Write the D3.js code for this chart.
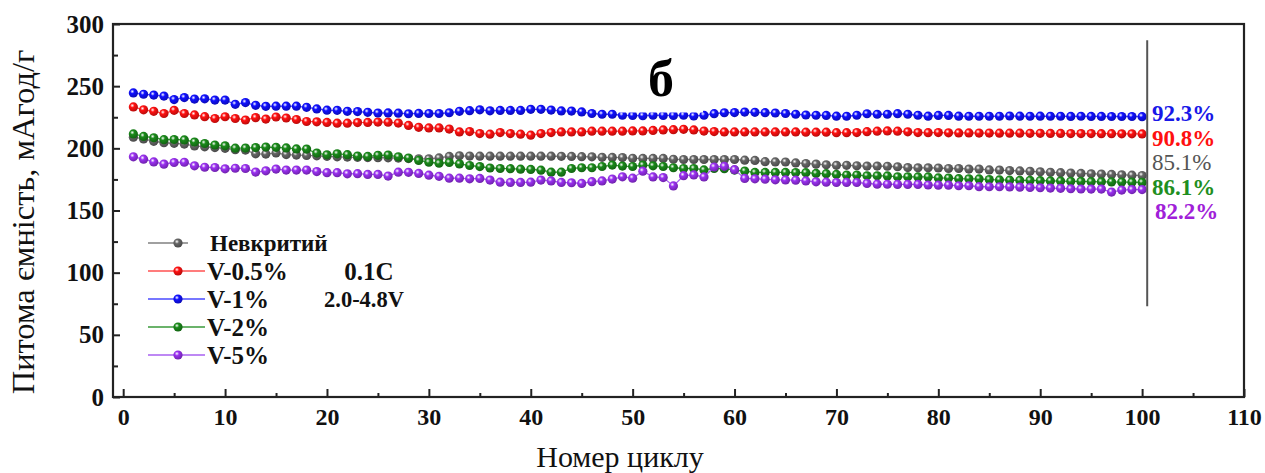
<!DOCTYPE html>
<html><head><meta charset="utf-8">
<script src="https://cdn.jsdelivr.net/npm/d3@7"></script>
<style>
html,body{margin:0;padding:0;background:#fff;}
text{font-family:"Liberation Serif","Times New Roman",serif;}
</style></head>
<body>
<svg id="chart" width="1265" height="473"></svg>
<script>
const cycles = d3.range(1, 101);
const seriesNames = ["Невкритий", "V-0.5%", "V-1%", "V-2%", "V-5%"];
const uncoated = [209,207.6,205.6,204.5,204,203.4,201.9,201.2,200.6,200,198.9,198.6,195.6,195.4,196.3,195,194.6,194.3,194,193.6,193.2,193,192.8,192.6,192.5,192.4,192.2,191.8,191.6,191.6,192.3,193.5,194,193.8,193.7,193.7,193.7,193.7,193.7,193.7,193.7,193.7,193.6,193.5,193.3,193.2,192.8,192.7,192.6,192,191.9,191.9,191.9,191.2,191,191,191,191,191,191,190.5,190.3,189.3,189.1,189,188.3,187.8,187.3,186.7,186.3,186.3,186,185.7,185.7,185.6,185.2,184.5,184.3,184.3,184.2,183.8,183.8,183.3,183.3,182.6,182.5,182.1,181.8,181.5,181.1,180.7,180.4,180.1,179.8,179.5,179.3,179,178.7,178.4,178.1];
const v05 = [233.3,231,229.8,228,230.6,228,226.9,225.5,224,225.4,224,222.8,224.7,223.5,225.2,224.4,223.2,221.6,221.3,220.8,220.2,220.2,220.7,220.8,221.1,221,220.3,218.4,216.9,216.4,216.4,215.5,213.2,213.5,211.9,211.4,212.7,211.9,211.4,210.6,211.9,212.7,213.2,213.2,213.2,213.8,213.8,213.8,213.8,214,214,214.4,214.8,215,215.3,214.8,213.9,213.5,213.2,213.2,213.2,213.2,213.2,213.2,213.2,213.2,213,213,213,212.6,212.6,212.7,213.4,213.8,214,213.8,213.3,212.7,212.6,212.7,212.5,212.4,212.4,212.3,212.3,212.2,212.2,212.2,212.1,212.1,212,212,211.9,211.9,211.9,211.8,211.8,211.7,211.7,211.6];
const v1 = [244.6,243.5,242.8,242,239.2,240.8,239.6,239.8,238.8,238.8,235.4,236.8,234.6,233.8,233.9,233.9,233.9,233,231.7,230.7,230.6,229.8,229.6,229,228.4,228.5,228.3,227.8,228.1,228,228,228.6,229.8,230.3,231,230.2,230.5,230.5,230.5,231.4,231.4,230.8,230.1,230,229.3,228,227.4,227.4,226.6,226.4,226.2,226.6,226.5,226.4,226.6,226,226.6,227.9,228.6,228.8,229.2,229,228.7,228.4,228,227.4,226.8,226.6,226.5,225.9,225.8,226.6,227.8,227.4,227.4,227.9,227.4,226.6,225.9,226.5,226.5,225.9,225.8,225.8,225.8,225.8,226,225.9,225.8,225.9,225.8,225.8,225.7,225.8,225.7,225.7,225.6,225.6,225.6,225.5];
const v2 = [211.6,209.6,208.5,207,207.1,206.8,205.1,203.9,202.7,202,200.1,200.2,200.6,201,200.8,200.3,199.5,199.4,196.2,194.8,195.6,194.9,193.8,193.5,194.4,194.6,193.2,192.2,190.3,188.8,188,188.6,187.5,186.2,185.3,184.2,183.8,183.6,183.2,183,182.4,180.8,180.8,183.8,184.4,184.4,185.4,186.5,185.7,185.4,186.5,185.9,185.4,184.4,183.8,183.8,182.6,183.8,183.6,182.5,181.7,180.6,180.6,180.6,180.6,180.5,180.4,179.8,179.6,179,178.5,178.5,177.9,177.9,177.8,177.1,177.1,177,177,176.2,176.1,175.6,175.5,175.4,174.9,174.6,174.4,174.2,174.2,174,173.8,173.7,173.5,173.4,173.2,173.1,173,172.9,172.8,172.6];
const v5 = [193.2,191.3,189.1,187.3,188.6,188.8,185.9,184.8,184.6,183.5,184,183.8,180.9,181.9,183.3,182.5,182.5,182.5,181.3,180.4,180.4,179.5,179.6,179,179,177.7,180.8,180.7,179.8,178.4,177.5,176,176,175.5,175.8,174.5,172.8,172.6,172.6,172.8,174.5,173.8,172.6,172.3,171.8,173.2,173.8,175.3,177.1,176,181.6,177,176.5,169.8,178,178.6,177,185,185.5,182.8,175.8,175.5,175.2,174.7,174.6,174.4,173.8,173.1,172.8,172.5,172.6,172.5,171.8,171.2,171.1,171,171,171,170.5,170.4,170.4,169.9,169.9,169.2,169.1,169.1,169,168.8,168.5,168.3,168,167.8,167.5,167.3,167.2,167.2,164.8,166.4,166.8,166.8];
const seriesValues = [uncoated, v05, v1, v2, v5];
const retentionLabels = ["85.1%", "90.8%", "92.3%", "86.1%", "82.2%"];
const xTicks = d3.range(0, 111, 10);
const yTicks = d3.range(0, 301, 50);
const xTitle = "Номер циклу";
const yTitle = "Питома ємність, мАгод/г";
const panelLabel = "б";
const conditionLabels = ["0.1C", "2.0-4.8V"];
const markerLineCycle = 100.5;
const markerLineRange = [73, 287];

// styles
const colors = ["#666666", "#ff1010", "#1010ff", "#1a8a1a", "#9a30f0"];
const lineColors = ["#808080", "#ff5050", "#4a4aff", "#3a9a3a", "#a860f0"];
const textColors = ["#555555", "#ff1010", "#1818e8", "#1f8f1f", "#a020d8"];

const svg = d3.select("#chart");
const L = 113, R = 1244, T = 24, B = 397;
const x = d3.scaleLinear().domain([-1, 110]).range([L, R]);
const y = d3.scaleLinear().domain([0, 300]).range([B, T]);

const defs = svg.append("defs");
colors.forEach((c, i) => {
  const g = defs.append("radialGradient").attr("id", "g" + i)
    .attr("cx", "38%").attr("cy", "35%").attr("r", "65%");
  g.append("stop").attr("offset", "0%").attr("stop-color", "#ffffff").attr("stop-opacity", 0.95);
  g.append("stop").attr("offset", "35%").attr("stop-color", c);
  g.append("stop").attr("offset", "100%").attr("stop-color", d3.color(c).darker(0.9));
});

// axes
const yAxis = d3.axisLeft(y).tickValues(yTicks).tickSize(0).tickPadding(9);
const yMinor = d3.axisRight(y).tickValues(d3.range(25, 300, 50)).tickSize(5).tickFormat("");
const yMajor = d3.axisRight(y).tickValues(yTicks).tickSize(7).tickFormat("");
const xAxis = d3.axisBottom(x).tickValues(xTicks).tickSize(0).tickPadding(11);
const xMinor = d3.axisTop(x).tickValues(d3.range(5, 110, 10)).tickSize(4).tickFormat("");
const xMajor = d3.axisTop(x).tickValues(xTicks).tickSize(8).tickFormat("");

function styleAxis(g, fs) {
  g.select(".domain").remove();
  g.selectAll("line").attr("stroke", "#222").attr("stroke-width", 2);
  g.selectAll("text").attr("font-family", "Liberation Serif, serif").attr("font-weight", "bold")
    .attr("font-size", fs).attr("fill", "#111");
}
svg.append("g").attr("transform", `translate(${L},0)`).call(yAxis).call(g => styleAxis(g, 25));
svg.append("g").attr("transform", `translate(${L},0)`).call(yMinor).call(g => styleAxis(g, 25));
svg.append("g").attr("transform", `translate(${L},0)`).call(yMajor).call(g => styleAxis(g, 25));
svg.append("g").attr("transform", `translate(0,${B})`).call(xAxis).call(g => styleAxis(g, 24));
svg.append("g").attr("transform", `translate(0,${B})`).call(xMinor).call(g => styleAxis(g, 24));
svg.append("g").attr("transform", `translate(0,${B})`).call(xMajor).call(g => styleAxis(g, 24));

// frame
svg.append("rect").attr("x", L).attr("y", T).attr("width", R - L).attr("height", B - T)
  .attr("fill", "none").attr("stroke", "#222").attr("stroke-width", 2.2);

// series
const line = d3.line().x((d, i) => x(cycles[i])).y(d => y(d));
seriesValues.forEach((vals, i) => {
  const g = svg.append("g");
  g.append("path").datum(vals).attr("d", line).attr("fill", "none")
    .attr("stroke", lineColors[i]).attr("stroke-width", 1.3);
  g.selectAll("circle").data(vals).join("circle")
    .attr("cx", (d, j) => x(cycles[j])).attr("cy", d => y(d)).attr("r", 4.6)
    .attr("fill", `url(#g${i})`);
});

// white box behind panel label
svg.append("rect").attr("x", 618).attr("y", 40).attr("width", 85).attr("height", 72.5).attr("fill", "#fff");
svg.append("text").attr("x", 661).attr("y", 96).attr("text-anchor", "middle")
  .attr("font-weight", "bold").attr("font-size", 52).attr("fill", "#000").text(panelLabel);

// vertical marker line
svg.append("line").attr("x1", x(markerLineCycle)).attr("x2", x(markerLineCycle))
  .attr("y1", y(markerLineRange[1])).attr("y2", y(markerLineRange[0]))
  .attr("stroke", "#555").attr("stroke-width", 2);

// retention labels
const retY = [162, 137.5, 113, 186.5, 211];
const retX = [1152, 1152, 1152, 1152, 1155];
const retW = ["normal", "bold", "bold", "bold", "bold"];
retentionLabels.forEach((t, i) => {
  svg.append("text").attr("x", retX[i]).attr("y", retY[i]).attr("dy", "0.35em")
    .attr("font-size", 23).attr("font-weight", retW[i]).attr("fill", textColors[i]).text(t);
});

// legend
const legY = [243, 271, 299, 327, 355];
seriesNames.forEach((n, i) => {
  const ly = legY[i];
  svg.append("line").attr("x1", 148).attr("x2", i === 0 ? 188 : 205).attr("y1", ly).attr("y2", ly)
    .attr("stroke", lineColors[i]).attr("stroke-width", 1.3);
  svg.append("circle").attr("cx", 178).attr("cy", ly).attr("r", 4.6).attr("fill", `url(#g${i})`);
  svg.append("text").attr("x", i === 0 ? 210 : 207).attr("y", ly).attr("dy", "0.35em")
    .attr("font-size", i === 0 ? 23 : 25).attr("font-weight", "bold").attr("fill", "#111").text(n);
});

// condition labels
svg.append("text").attr("x", 369).attr("y", 271).attr("dy", "0.35em").attr("text-anchor", "middle")
  .attr("font-size", 25).attr("font-weight", "bold").attr("fill", "#111").text(conditionLabels[0]);
svg.append("text").attr("x", 364).attr("y", 299).attr("dy", "0.35em").attr("text-anchor", "middle")
  .attr("font-size", 22.5).attr("font-weight", "bold").attr("fill", "#111").text(conditionLabels[1]);

// axis titles
svg.append("text").attr("x", 620).attr("y", 467).attr("text-anchor", "middle")
  .attr("font-size", 30).attr("fill", "#111").text(xTitle);
svg.append("text").attr("transform", "translate(34,222) rotate(-90)").attr("text-anchor", "middle")
  .attr("font-size", 32.5).attr("fill", "#111").text(yTitle);
</script>
</body></html>
